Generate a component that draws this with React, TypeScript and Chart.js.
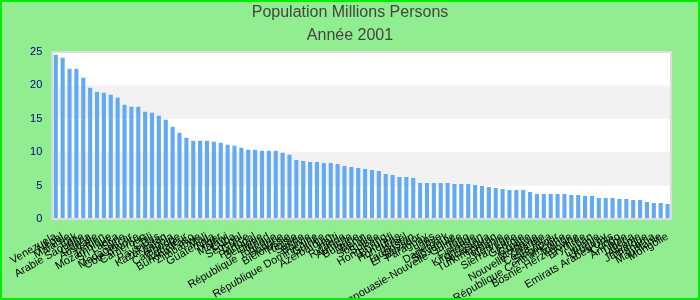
import React, { useEffect, useRef } from "react";
import { Chart, registerables } from "chart.js";

Chart.register(...registerables);

const countries: string[] = [
  "Venezuela", "Népal", "Malaisie", "Irak", "Arabie Saoudite", "Ghana", "Australie", "Yémen",
  "Mozambique", "Sri Lanka", "Syrie", "Madagascar", "Côte d'Ivoire", "Cameroun", "Chili",
  "Pays-Bas", "Kazakhstan", "Angola", "Cambodge", "Équateur", "Burkina Faso", "Zimbabwe",
  "Mali", "Guatemala", "Niger", "Malawi", "Cuba", "Sénégal", "Grèce", "Portugal", "Belgique",
  "Tchad", "République Tchèque", "Hongrie", "Biélorussie", "Tunisie", "Suède", "Bolivie",
  "République Dominicaine", "Guinée", "Azerbaïdjan", "Haïti", "Rwanda", "Autriche", "Bulgarie",
  "Bénin", "Somalie", "Suisse", "Hong Kong", "Burundi", "Honduras", "Israël", "Tadjikistan",
  "El Salvador", "Paraguay", "Laos", "Libye", "Danemark", "Slovaquie", "Papouasie-Nouvelle-Guinée",
  "Togo", "Finlande", "Kirghizistan", "Nicaragua", "Turkménistan", "Jordanie", "Norvège",
  "Sierra Leone", "Géorgie", "Croatie", "Moldavie", "Nouvelle-Zélande", "Costa Rica",
  "Singapour", "République Centrafricaine", "Irlande", "Bosnie-Herzégovine", "Érythrée",
  "Liban", "Lituanie", "Uruguay", "Emirats Arabes Unis", "Congo", "Arménie", "Libéria",
  "Albanie", "Jamaïque", "Panama", "Mauritanie", "Mongolie",
];

const population: number[] = [
  24.6, 24.15, 22.5, 22.5, 21.15, 19.65, 19.05, 18.9, 18.6, 18.15,
  17.1, 16.8, 16.8, 16.05, 15.9, 15.45, 14.85, 13.8, 12.9, 12.15,
  11.7, 11.7, 11.7, 11.55, 11.4, 11.1, 10.95, 10.65, 10.35, 10.35,
  10.2, 10.2, 10.2, 9.9, 9.6, 8.85, 8.7, 8.55, 8.55, 8.4,
  8.4, 8.25, 7.95, 7.8, 7.65, 7.5, 7.35, 7.2, 6.75, 6.6,
  6.3, 6.3, 6.15, 5.4, 5.4, 5.4, 5.4, 5.4, 5.25, 5.25,
  5.25, 5.1, 4.95, 4.8, 4.65, 4.5, 4.35, 4.35, 4.35, 4.05,
  3.75, 3.75, 3.75, 3.75, 3.75, 3.6, 3.6, 3.45, 3.45, 3.15,
  3.15, 3.15, 3.0, 3.0, 2.85, 2.85, 2.55, 2.4, 2.4, 2.25,
];

const yTicks: number[] = [0, 5, 10, 15, 20, 25];
const titleText = "Population Millions Persons";
const subtitleText = "Année 2001";

const FONT = "'Liberation Sans', Arial, sans-serif";

const bgPlugin = {
  id: "bgBands",
  beforeDraw(chart: any) {
    const { ctx, width, height, chartArea: a, scales } = chart;
    const y = scales.y;
    ctx.save();
    ctx.fillStyle = "#90ee90";
    ctx.fillRect(0, 0, width, height);
    ctx.fillStyle = "#ffffff";
    ctx.fillRect(a.left, a.top, a.right - a.left, a.bottom - a.top);
    ctx.fillStyle = "#f2f2f2";
    for (let i = 0; i < yTicks.length - 1; i++) {
      if (i % 2 === 1) {
        const y1 = y.getPixelForValue(yTicks[i]);
        const y2 = y.getPixelForValue(yTicks[i + 1]);
        ctx.fillRect(a.left, y2, a.right - a.left, y1 - y2);
      }
    }
    ctx.restore();
  },
  afterDraw(chart: any) {
    const { ctx, width, height, chartArea: a } = chart;
    ctx.save();
    ctx.strokeStyle = "#dcdcdc";
    ctx.lineWidth = 2;
    ctx.strokeRect(a.left, a.top, a.right - a.left, a.bottom - a.top);
    ctx.strokeStyle = "#00ee00";
    ctx.lineWidth = 2;
    ctx.strokeRect(1, 1, width - 2, height - 2);
    ctx.restore();
  },
};

export default function App() {
  const ref = useRef<HTMLCanvasElement | null>(null);

  useEffect(() => {
    if (!ref.current) return;
    Chart.defaults.font.family = FONT;
    const chart = new Chart(ref.current, {
      type: "bar",
      data: {
        labels: countries,
        datasets: [
          {
            label: titleText,
            data: population,
            backgroundColor: "#64aaf2",
            borderWidth: 0,
            barPercentage: 0.6,
            categoryPercentage: 1,
          },
        ],
      },
      options: {
        animation: false,
        responsive: false,
        layout: { padding: 0 },
        plugins: {
          legend: { display: false },
          tooltip: { enabled: false },
          title: {
            display: true,
            text: titleText,
            color: "#444444",
            font: { size: 16, weight: "normal", family: FONT },
            padding: { top: 3, bottom: 3 },
          },
          subtitle: {
            display: true,
            text: subtitleText,
            color: "#444444",
            font: { size: 16, weight: "normal", family: FONT },
            padding: { top: 1, bottom: 6.6 },
          },
        },
        scales: {
          x: {
            grid: { display: false, drawTicks: false },
            border: { display: false },
            ticks: {
              autoSkip: false,
              minRotation: 30,
              maxRotation: 30,
              color: "#000000",
              font: { size: 11, family: FONT },
              padding: 11,
            },
            afterFit(scale: any) {
              scale.height = 81;
            },
          },
          y: {
            min: 0,
            max: 25,
            grid: { display: false, drawTicks: false },
            border: { display: false },
            ticks: {
              stepSize: 5,
              color: "#00008b",
              font: { size: 11, family: FONT },
              padding: 10,
            },
            afterFit(scale: any) {
              scale.width = 50;
            },
          },
          yRight: {
            position: "right",
            display: true,
            min: 0,
            max: 25,
            grid: { display: false, drawTicks: false },
            border: { display: false },
            ticks: { display: false },
            afterFit(scale: any) {
              scale.width = 29;
            },
          },
        },
      },
      plugins: [bgPlugin],
    });
    return () => chart.destroy();
  }, []);

  return (
    <div style={{ position: "fixed", left: 0, top: 0, width: 700, height: 300 }}>
      <canvas ref={ref} width={700} height={300} style={{ display: "block" }} />
    </div>
  );
}
